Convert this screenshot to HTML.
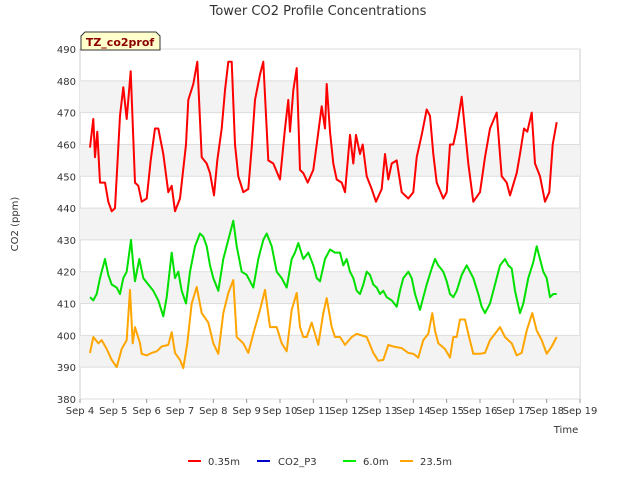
<!DOCTYPE html>
<html><head><meta charset="utf-8"><style>
body{margin:0;background:#fff;font-family:"Liberation Sans",sans-serif;}
svg text{font-family:"DejaVu Sans","Liberation Sans",sans-serif;}
</style></head><body>
<svg id="chart" width="640" height="480" xmlns="http://www.w3.org/2000/svg">
<rect width="640" height="480" fill="#fff"/>
<text x="318" y="15" text-anchor="middle" font-size="13" fill="#333">Tower CO2 Profile Concentrations</text>
<g id="plot"></g>
<text transform="translate(18,224) rotate(-90)" text-anchor="middle" font-size="10" fill="#333">CO2 (ppm)</text>
<text x="566" y="433" text-anchor="middle" font-size="10" fill="#333">Time</text>
<g>
<path d="M81,50 L81,36 L85,32 L156,32 L160,36 L160,50 Z" fill="#ffffcc" stroke="#333" stroke-width="1"/>
<text x="120" y="46" text-anchor="middle" font-size="11" font-weight="bold" fill="#8b0000">TZ_co2prof</text>
</g>
<g>
<g><line x1="188" y1="461" x2="201" y2="461" stroke="#ff0000" stroke-width="2"/><text x="208" y="465" font-size="10" fill="#333">0.35m</text></g>
<g><line x1="257" y1="461" x2="270" y2="461" stroke="#0000cc" stroke-width="2"/><text x="278" y="465" font-size="10" fill="#333">CO2_P3</text></g>
<g><line x1="343" y1="461" x2="356" y2="461" stroke="#00ee00" stroke-width="2"/><text x="363" y="465" font-size="10" fill="#333">6.0m</text></g>
<g><line x1="400" y1="461" x2="413" y2="461" stroke="#ffa500" stroke-width="2"/><text x="420" y="465" font-size="10" fill="#333">23.5m</text></g>
</g>
</svg>
<script>
const yTicks=[380,390,400,410,420,430,440,450,460,470,480,490];
const xTickLabels=["Sep 4","Sep 5","Sep 6","Sep 7","Sep 8","Sep 9","Sep 10","Sep 11","Sep 12","Sep 13","Sep 14","Sep 15","Sep 16","Sep 17","Sep 18","Sep 19"];
const redT=[0.3,0.4,0.45,0.52,0.6,0.75,0.85,0.95,1.05,1.15,1.2,1.3,1.4,1.52,1.65,1.75,1.85,2.0,2.12,2.25,2.35,2.5,2.65,2.75,2.85,3.0,3.18,3.25,3.4,3.52,3.65,3.8,3.9,4.02,4.12,4.25,4.35,4.45,4.55,4.65,4.75,4.9,5.05,5.15,5.25,5.4,5.5,5.65,5.8,6.0,6.15,6.25,6.3,6.4,6.5,6.6,6.7,6.83,7.0,7.1,7.25,7.35,7.4,7.5,7.6,7.7,7.85,7.95,8.1,8.2,8.28,8.4,8.48,8.6,8.75,8.88,9.05,9.15,9.25,9.35,9.5,9.65,9.85,10.0,10.1,10.25,10.4,10.5,10.6,10.7,10.9,11.0,11.1,11.2,11.3,11.45,11.65,11.8,12.0,12.15,12.3,12.5,12.65,12.8,12.9,13.1,13.2,13.32,13.42,13.55,13.65,13.8,13.95,14.08,14.18,14.3];
const redV=[459,468,456,464,448,448,442,439,440,459,469,478,468,483,448,447,442,443,455,465,465,457,445,447,439,443,460,474,479,486,456,454,451,444,455,465,477,486,486,460,450,445,446,459,474,482,486,455,454,449,465,474,464,477,484,452,451,448,452,460,472,465,479,464,454,449,448,445,463,454,463,457,460,450,446,442,446,457,449,454,455,445,443,445,456,463,471,469,457,448,443,445,460,460,465,475,454,442,445,456,465,470,450,448,444,451,457,465,464,470,454,450,442,445,460,467];
const greenT=[0.3,0.4,0.5,0.6,0.75,0.85,0.95,1.1,1.2,1.3,1.4,1.53,1.6,1.65,1.78,1.9,2.05,2.2,2.35,2.5,2.6,2.75,2.85,2.95,3.05,3.18,3.3,3.45,3.6,3.7,3.8,3.9,4.0,4.15,4.3,4.45,4.6,4.7,4.85,5.0,5.2,5.35,5.5,5.6,5.75,5.9,6.05,6.2,6.35,6.45,6.55,6.7,6.85,7.0,7.1,7.2,7.35,7.5,7.65,7.8,7.9,8.0,8.1,8.2,8.3,8.4,8.5,8.6,8.7,8.8,8.9,9.0,9.1,9.2,9.35,9.5,9.6,9.7,9.85,9.95,10.05,10.2,10.3,10.4,10.55,10.65,10.75,10.9,11.0,11.1,11.2,11.3,11.45,11.6,11.7,11.8,11.95,12.05,12.15,12.3,12.45,12.6,12.75,12.85,12.95,13.05,13.2,13.3,13.45,13.6,13.7,13.8,13.9,14.0,14.1,14.2,14.3];
const greenV=[412,411,413,418,424,419,416,415,413,418,420,430,422,417,424,418,416,414,411,406,412,426,418,420,414,410,420,428,432,431,428,422,418,414,424,430,436,428,420,419,415,424,430,432,428,420,418,415,424,426,429,424,426,422,418,417,424,427,426,426,422,424,420,418,414,413,416,420,419,416,415,413,414,412,411,409,414,418,420,418,413,408,412,416,421,424,422,420,417,413,412,414,419,422,420,418,413,409,407,410,416,422,424,422,421,414,407,410,418,423,428,424,420,418,412,413,413];
const orangeT=[0.3,0.4,0.55,0.65,0.8,0.95,1.1,1.25,1.4,1.5,1.58,1.65,1.8,1.85,2.0,2.15,2.3,2.45,2.65,2.75,2.85,3.0,3.1,3.22,3.35,3.5,3.65,3.85,4.0,4.15,4.3,4.45,4.6,4.7,4.9,5.05,5.2,5.4,5.55,5.7,5.9,6.05,6.2,6.35,6.5,6.6,6.7,6.8,6.95,7.15,7.3,7.4,7.55,7.65,7.8,7.95,8.15,8.3,8.6,8.8,8.95,9.1,9.25,9.4,9.65,9.85,10.0,10.15,10.3,10.45,10.57,10.65,10.75,10.95,11.1,11.2,11.3,11.4,11.55,11.65,11.8,12.0,12.15,12.3,12.45,12.6,12.75,12.95,13.1,13.25,13.4,13.57,13.7,13.85,14.0,14.15,14.3];
const orangeV=[394.5,399.5,397.5,398.5,395.7,392.3,390,395.7,398.5,414.3,397.5,402.6,397.5,394.2,393.7,394.5,395,396.5,397,401,394.5,392.3,389.7,397.5,410,415.2,407,404,397.5,394.2,407,413.3,417.4,399.5,397.5,394.5,400.5,408,414.3,402.6,402.6,397.5,395,408,413.3,402.6,399.5,399.5,404,397,407,411.7,402.6,399.5,399.5,397,399.5,400.5,399.5,394.5,392,392.3,397,396.5,396,394.5,394.2,393,398.5,400.5,407,401.5,397.5,395.7,393,399.5,399.5,405,405,400.5,394.2,394.2,394.5,398.5,400.5,402.6,399.5,397.5,393.7,394.5,401.5,407,401.5,398.5,394.2,396.5,399.5];

const NS="http://www.w3.org/2000/svg";
const L=80,R=580,T=49,B=399,yMin=380,yMax=490,xMin=0,xMax=15;
const xs=d=>L+(d-xMin)/(xMax-xMin)*(R-L);
const ys=v=>B-(v-yMin)/(yMax-yMin)*(B-T);
const plot=document.getElementById('plot');
function mk(tag,attrs){const e=document.createElementNS(NS,tag);for(const k in attrs)e.setAttribute(k,attrs[k]);return e;}
const bg=mk('rect',{x:L,y:T,width:R-L,height:B-T,fill:'#fff',stroke:'#ccc'});


plot.appendChild(bg);
for(let i=0;i<yTicks.length-1;i++){
  if(i%2===1){
    const b=mk('rect',{x:L,y:ys(yTicks[i+1]),width:R-L,height:ys(yTicks[i])-ys(yTicks[i+1]),fill:'#f3f3f3'});
    
    
    plot.appendChild(b);
  }
}
yTicks.forEach(v=>{
  const g=mk('line',{x1:L,x2:R,y1:ys(v),y2:ys(v),stroke:'#ddd'});
  
  
  plot.appendChild(g);
  const t=mk('text',{x:L-4,y:ys(v)+4,'text-anchor':'end','font-size':10,fill:'#333'});
  t.textContent=v;
  
  
  plot.appendChild(t);
});
xTickLabels.forEach((lab,i)=>{
  const tk=mk('line',{x1:xs(i),x2:xs(i),y1:B,y2:B+4,stroke:'#999'});
  
  
  plot.appendChild(tk);
  const t=mk('text',{x:xs(i),y:B+15,'text-anchor':'middle','font-size':10,fill:'#333'});
  t.textContent=lab;
  
  
  plot.appendChild(t);
});
function line(T_,V_,color,name){
  const d=T_.map((t,i)=>(i?'L':'M')+xs(t).toFixed(1)+','+ys(V_[i]).toFixed(1)).join(' ');
  const p=mk('path',{d:d,fill:'none',stroke:color,'stroke-width':2,'stroke-linejoin':'round'});
  
  
  plot.appendChild(p);
}
line(orangeT,orangeV,'#ffa500','series-23-5m');
line(greenT,greenV,'#00e000','series-6-0m');
line(redT,redV,'#ff0000','series-0-35m');
</script>
</body></html>
